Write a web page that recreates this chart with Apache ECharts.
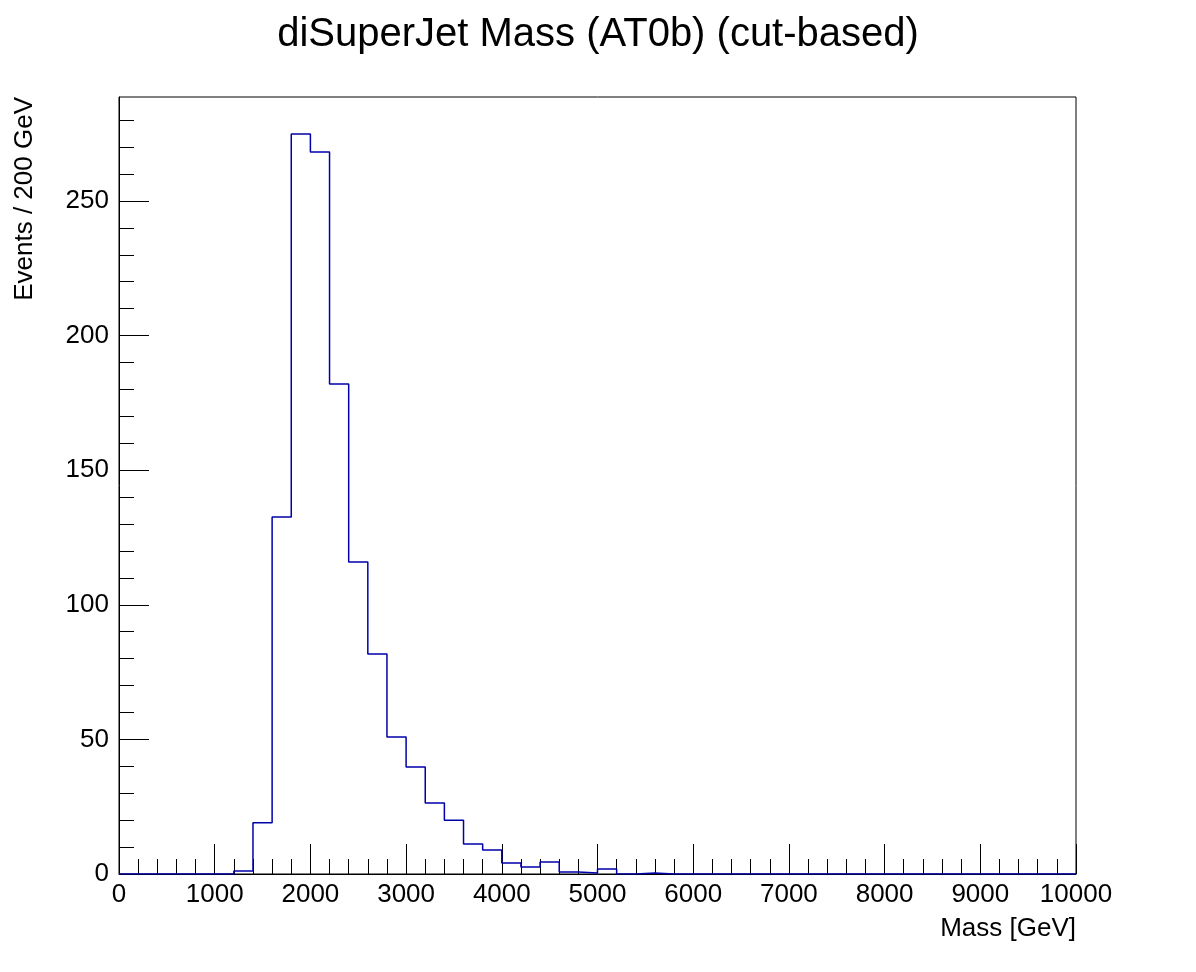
<!DOCTYPE html>
<html><head><meta charset="utf-8">
<script src="https://cdn.jsdelivr.net/npm/echarts@6/dist/echarts.min.js"></script>
<style>html,body{margin:0;padding:0;background:#fff}#c{width:1196px;height:972px}</style>
</head><body><div id="c"></div>
<script>
const binEdgesStart = 0, binWidth = 200;
const counts = [0,0,0,0,0,0,1.1,19,132.6,274.9,268.2,182,115.9,81.7,50.9,39.7,26.4,20,11.1,8.9,4.1,2.6,4.5,0.7,0.4,1.9,0,0.4,0,0,0,0,0,0,0,0,0,0,0,0,0,0,0,0,0,0,0,0,0,0];
const yTicks = [0,50,100,150,200,250];
const title = 'diSuperJet Mass (AT0b) (cut-based)';
const xTitle = 'Mass [GeV]';
const yTitle = 'Events / 200 GeV';
const pts = [];
counts.forEach((v,i)=>{const lo=binEdgesStart+i*binWidth;pts.push([lo,v],[lo+binWidth,v]);});
const yMinor = [];
for (let v=10; v<288; v+=10) if (v%50) yMinor.push(v);
const font='Liberation Sans';
const chart = echarts.init(document.getElementById('c'));
chart.setOption({
  animation:false,
  title:{text:title,left:'center',top:10,textStyle:{fontFamily:font,fontSize:40,fontWeight:'normal',color:'#000'}},
  grid:{left:119,right:120,top:97,bottom:98,show:true,borderColor:'#000',borderWidth:1,containLabel:false,outerBoundsMode:'none'},
  graphic:[{type:'text',x:12,y:97,rotation:Math.PI/2,originX:0,originY:0,
    style:{text:yTitle,fontFamily:font,fontSize:26,fill:'#000',align:'right',verticalAlign:'top'}}],
  xAxis:{type:'value',min:0,max:10000,interval:1000,
    axisLine:{lineStyle:{color:'#000'}},
    axisTick:{inside:true,length:30,lineStyle:{color:'#000'}},
    minorTick:{show:true,splitNumber:5,length:15,lineStyle:{color:'#000'}},
    splitLine:{show:false},
    axisLabel:{fontFamily:font,fontSize:26,color:'#000',margin:8,formatter:v=>String(v)},
    name:xTitle,nameLocation:'end',nameGap:0,
    nameTextStyle:{fontFamily:font,fontSize:26,color:'#000',align:'right',verticalAlign:'top',padding:[42,0,0,0]}},
  yAxis:[{type:'value',min:0,max:288.6,
    axisLine:{lineStyle:{color:'#000'}},
    axisTick:{inside:true,length:30,lineStyle:{color:'#000'},customValues:yTicks},
    splitLine:{show:false},
    axisLabel:{fontFamily:font,fontSize:26,color:'#000',margin:10,customValues:yTicks}},
   {type:'value',min:0,max:288.6,position:'left',
    axisLine:{show:false},
    axisTick:{inside:true,length:15,lineStyle:{color:'#000'},customValues:yMinor},
    splitLine:{show:false},axisLabel:{show:false}}],
  series:[{type:'line',data:pts,symbol:'none',lineStyle:{color:'#0000aa',width:1.5}}]
});
</script></body></html>
